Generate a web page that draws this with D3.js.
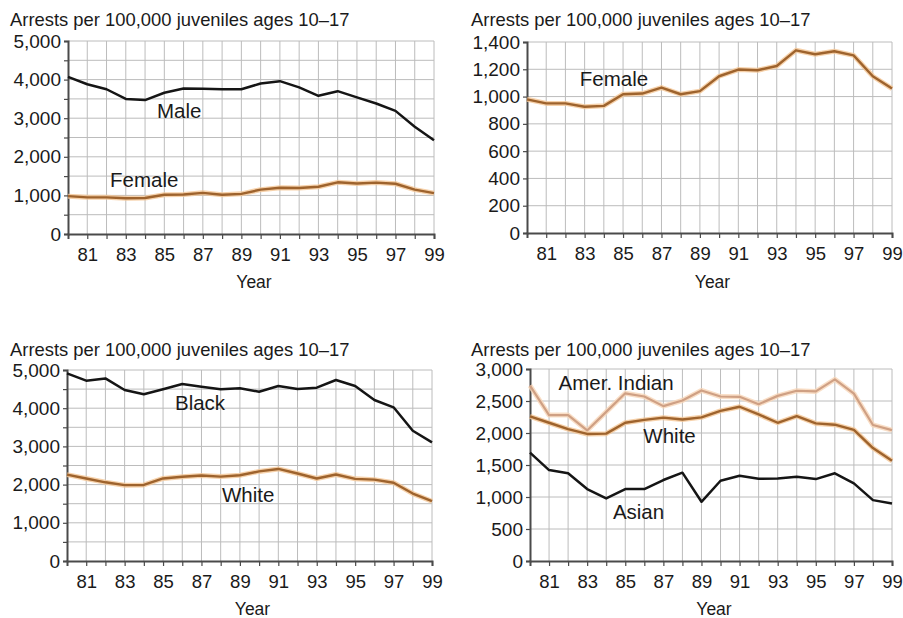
<!DOCTYPE html>
<html>
<head>
<meta charset="utf-8">
<script src="https://cdn.jsdelivr.net/npm/d3@7/dist/d3.min.js"></script>
<style>
  html, body { margin: 0; padding: 0; background: #fff; }
  svg { display: block; font-family: "Liberation Sans", Arial, sans-serif; }
</style>
</head>
<body>
<svg id="chart" width="903" height="618"></svg>
<script>
// ---- Data ----
const years = [1980,1981,1982,1983,1984,1985,1986,1987,1988,1989,1990,1991,1992,1993,1994,1995,1996,1997,1998,1999];
const xTickLabels = ["81","83","85","87","89","91","93","95","97","99"];
const yTitle = "Arrests per 100,000 juveniles ages 10–17";
const xTitle = "Year";

const maleRate   = [4070,3880,3750,3500,3470,3660,3770,3760,3750,3750,3900,3960,3800,3580,3700,3540,3380,3190,2780,2430];
const femaleRate = [980,950,950,925,932,1017,1022,1066,1017,1040,1149,1198,1193,1224,1339,1310,1332,1302,1149,1059];
const blackRate  = [4910,4720,4780,4476,4364,4495,4633,4563,4495,4520,4432,4581,4503,4537,4738,4581,4215,4023,3411,3107];
const whiteRate  = [2260,2160,2060,1985,1990,2160,2205,2240,2210,2245,2345,2410,2290,2160,2265,2150,2130,2050,1765,1565];
const amerIndianRate = [2740,2280,2280,2040,2330,2620,2570,2420,2508,2665,2570,2565,2450,2580,2660,2650,2838,2615,2125,2045];
const asianRate  = [1693,1421,1370,1124,978,1124,1124,1265,1380,925,1254,1332,1285,1290,1316,1280,1370,1213,951,900];

const yTicksGender = [0,1000,2000,3000,4000,5000];
const yTicksFemale = [0,200,400,600,800,1000,1200,1400];
const yTicksRace3  = [0,1000,2000,3000,4000,5000];
const yTicksRace4  = [0,500,1000,1500,2000,2500,3000];

// ---- Styles ----
const BLACK = {core: "#151515", width: 2.5, halo: null};
const BROWN = {core: "#9e632d", width: 2.4, halo: "#f4c595"};
const TAN   = {core: "#cfa084", width: 2.2, halo: "#f7d6b8"};

const panels = [
  { left: 68, right: 434, top: 41, bottom: 234, titleX: 10, titleY: 26, yearOff: 54,
    yMax: 5000, yTicks: yTicksGender, gridStep: 500,
    series: [{values: maleRate, style: BLACK}, {values: femaleRate, style: BROWN}],
    labels: [{text: "Male", year: 1984.62, value: 3000}, {text: "Female", year: 1982.18, value: 1218}] },
  { left: 527, right: 892, top: 42, bottom: 233, titleX: 471, titleY: 26, yearOff: 55,
    yMax: 1400, yTicks: yTicksFemale, gridStep: 200,
    series: [{values: femaleRate, style: BROWN}],
    labels: [{text: "Female", year: 1982.75, value: 1076}] },
  { left: 67, right: 432, top: 370, bottom: 561, titleX: 10, titleY: 356, yearOff: 54,
    yMax: 5000, yTicks: yTicksRace3, gridStep: 500,
    series: [{values: blackRate, style: BLACK}, {values: whiteRate, style: BROWN}],
    labels: [{text: "Black", year: 1985.62, value: 3953}, {text: "White", year: 1988.07, value: 1545}] },
  { left: 530, right: 892, top: 369, bottom: 561, titleX: 471, titleY: 356, yearOff: 54,
    yMax: 3000, yTicks: yTicksRace4, gridStep: 500,
    series: [{values: amerIndianRate, style: TAN}, {values: whiteRate, style: BROWN}, {values: asianRate, style: BLACK}],
    labels: [{text: "Amer. Indian", year: 1981.5, value: 2675}, {text: "White", year: 1985.95, value: 1845}, {text: "Asian", year: 1984.35, value: 654}] }
];

const svg = d3.select("#chart");
const fmt = d3.format(",");

panels.forEach(p => {
  const x = d3.scaleLinear().domain([1980, 1999]).range([p.left, p.right]);
  const y = d3.scaleLinear().domain([0, p.yMax]).range([p.bottom, p.top]);
  const g = svg.append("g");

  // title
  g.append("text").attr("x", p.titleX).attr("y", p.titleY)
    .attr("font-size", 18.4).attr("fill", "#1a1a1a").text(yTitle);

  // grid
  const gridVals = d3.range(p.gridStep, p.yMax + 1, p.gridStep);
  g.append("g").selectAll("line").data(gridVals).join("line")
    .attr("x1", p.left).attr("x2", p.right)
    .attr("y1", d => y(d)).attr("y2", d => y(d))
    .attr("stroke", "#bcbcbc").attr("stroke-width", 1);
  g.append("g").selectAll("line").data(years.slice(1)).join("line")
    .attr("x1", d => x(d)).attr("x2", d => x(d))
    .attr("y1", p.top).attr("y2", p.bottom)
    .attr("stroke", "#bcbcbc").attr("stroke-width", 1);

  // left axis
  const yAxis = d3.axisLeft(y).tickValues(d3.range(0, p.yMax + 1, p.gridStep))
    .tickSize(4).tickFormat(d => p.yTicks.includes(d) ? fmt(d) : "");
  const ya = g.append("g").attr("transform", `translate(${p.left},0)`).call(yAxis);
  ya.select(".domain").attr("stroke", "#4a4a4a").attr("stroke-width", 2);
  ya.selectAll(".tick line").attr("stroke", "#4a4a4a").attr("stroke-width", 1.2);
  ya.selectAll(".tick text").attr("font-size", 19).attr("fill", "#1a1a1a")
    .attr("font-family", "Liberation Sans, Arial, sans-serif").attr("x", -7);

  // bottom axis
  const xAxis = d3.axisBottom(x).tickValues(years.slice(1)).tickSize(5)
    .tickFormat(d => { const s = String(d).slice(2); return xTickLabels.includes(s) ? s : ""; });
  const xa = g.append("g").attr("transform", `translate(0,${p.bottom})`).call(xAxis);
  xa.select(".domain").attr("stroke", "#4a4a4a").attr("stroke-width", 2);
  xa.selectAll(".tick line").attr("stroke", "#4a4a4a").attr("stroke-width", 1.2);
  xa.selectAll(".tick text").attr("font-size", 18.5).attr("fill", "#1a1a1a")
    .attr("font-family", "Liberation Sans, Arial, sans-serif").attr("y", 14);

  // x title
  g.append("text").attr("x", (p.left + p.right) / 2 + 3).attr("y", p.bottom + p.yearOff)
    .attr("text-anchor", "middle").attr("font-size", 17.5).attr("fill", "#1a1a1a").text(xTitle);

  // lines
  const line = d3.line().x((d, i) => x(years[i])).y(d => y(d));
  p.series.forEach(s => {
    if (s.style.halo) {
      g.append("path").datum(s.values).attr("d", line).attr("fill", "none")
        .attr("stroke", s.style.halo).attr("stroke-width", 5).attr("stroke-linejoin", "round")
        .attr("opacity", 0.8);
    }
    g.append("path").datum(s.values).attr("d", line).attr("fill", "none")
      .attr("stroke", s.style.core).attr("stroke-width", s.style.width)
      .attr("stroke-linejoin", "round");
  });

  // series labels
  p.labels.forEach(l => {
    g.append("text").attr("x", x(l.year)).attr("y", y(l.value))
      .attr("font-size", 20.5).attr("fill", "#1a1a1a").text(l.text);
  });
});
</script>
</body>
</html>
